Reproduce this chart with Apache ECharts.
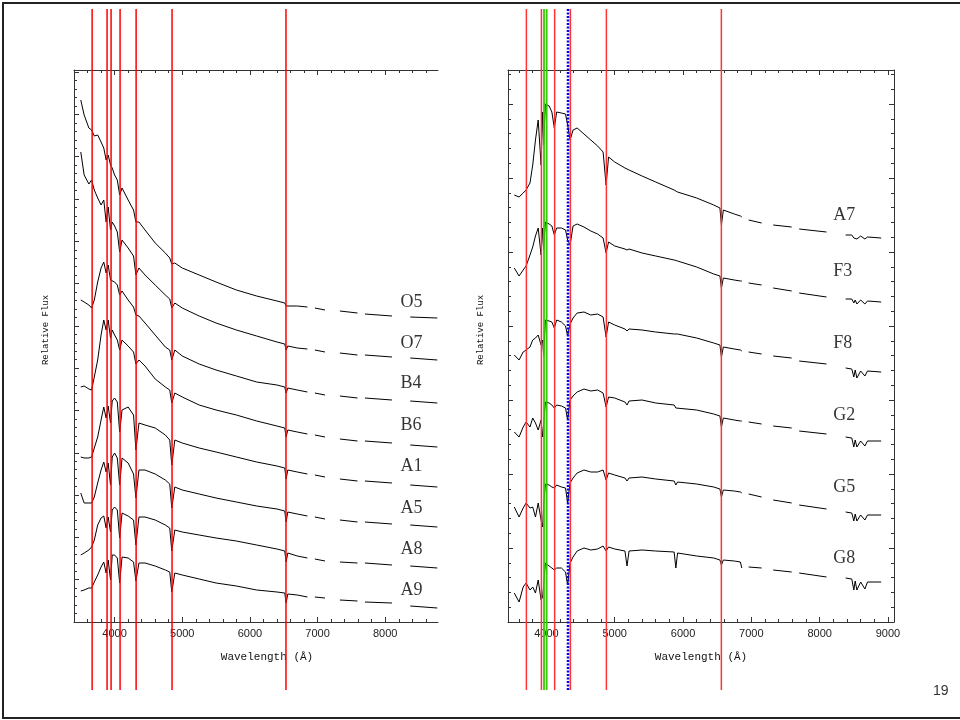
<!DOCTYPE html>
<html><head><meta charset="utf-8">
<script src="https://cdn.jsdelivr.net/npm/echarts@6/dist/echarts.min.js"></script>
<style>html,body{margin:0;padding:0;background:#fff}#c{width:960px;height:720px}</style>
</head><body><div id="c"></div>
<script>
// ---------- Left panel (O / B / early A stars) ----------
const leftWavelengths = [3500,3550,3620,3660,3700,3750,3800,3840,3875,3905,3940,3965,4000,4040,4075,4110,4200,4280,4315,4360,4450,4600,4750,4815,4845,4890,5000,5250,5500,5800,6100,6400,6515,6535,6560,6700,6850,6900,6960,7110,7200,7330,7590,7650,7700,8100,8250,8370,8770];
const O5 = [522,507,494,492,486,487,480,474,462,467,457,454,447,442,427,434,422,412,400,400,392,379,369,364,358,359,354,347,340,332,326,321,319,316,318,316,315,null,314,312,null,311,309,null,308,306,null,305,304];
const O7 = [470,447,438,442,432,424,417,422,400,415,392,400,396,390,370,382,374,366,347,354,347,337,327,323,314,319,314,306,299,292,286,280,278,272,276,274,273,null,272,270,null,269,267,null,267,265,null,264,262];
const B4 = [322,320,317,314,322,340,354,360,349,357,342,340,340,337,327,331,322,315,307,306,299,287,275,272,262,272,266,258,252,246,240,237,235,229,234,232,230,null,229,227,null,226,224,null,224,222,null,221,219];
const B6 = [235,236,233,232,245,262,287,302,292,302,284,292,287,282,272,282,276,270,258,262,256,243,235,232,219,229,225,217,212,207,201,196,194,185,192,190,188,null,187,185,null,183,181,null,181,179,null,177,175];
const A1 = [165,164,164,165,174,185,202,215,204,216,199,221,224,220,190,212,215,207,172,199,197,194,187,182,157,182,179,174,170,165,160,156,154,143,152,150,148,null,147,145,null,143,141,null,141,139,null,137,135];
const A5 = [129,119,119,119,125,139,152,160,150,159,137,165,169,164,137,164,159,148,124,152,152,148,142,138,114,135,132,128,124,120,116,113,111,100,110,108,106,null,105,103,null,102,100,null,100,98,null,97,95];
const A8 = [67,69,72,75,82,97,104,106,94,105,90,112,115,112,84,109,106,102,77,105,105,102,97,94,71,92,90,87,84,81,77,73,71,60,69,66,64,null,63,61,null,60,59,null,59,57,null,56,54];
const A9 = [31,32,34,34,40,47,55,60,49,62,42,67,67,64,39,65,64,60,41,59,59,56,52,50,30,49,47,43,39,36,32,30,29,19,28,27,25,null,25,24,null,22,21,null,20,19,null,16,14];
const leftNames = ['O5','O7','B4','B6','A1','A5','A8','A9'];
const leftLabelX = 8217;
const leftLabelY = [320,279,239,197,156,114,73,32];
const leftRedLines = [3668,3889,3948,4081,4318,4849,6533];
const leftMajorTicks = [4000,5000,6000,7000,8000];
const leftMinorTicks = [3600,3800,4200,4400,4600,4800,5200,5400,5600,5800,6200,6400,6600,6800,7200,7400,7600,7800,8200,8400,8600];

// ---------- Right panel (A7 / F / G stars) ----------
const rightWavelengths = [3530,3600,3660,3703,3760,3800,3840,3880,3922,3945,3960,3985,4000,4040,4080,4116,4150,4220,4280,4311,4347,4390,4450,4550,4650,4750,4830,4874,4910,5000,5150,5180,5210,5400,5600,5870,5895,5920,6200,6450,6540,6562,6590,6750,6840,6860,6920,6960,7150,7250,7320,7590,7650,7700,8100,8250,8380,8470,8500,8520,8545,8600,8662,8700,8900];
const A7 = [427,425,429,432,439,457,482,502,457,510,477,518,520,516,510,494,510,509,508,497,482,492,494,488,482,476,470,437,465,460,454,453,452,446,440,432,431,430,424,417,414,397,412,408,406,405,null,402,399,null,397,395,null,393,390,null,387,387,384,386,383,386,383,385,384];
const F3 = [354,346,352,356,367,375,386,394,367,394,372,400,400,398,396,387,394,394,392,382,377,396,398,395,391,388,384,369,380,376,373,372,373,369,366,362,361,361,355,348,346,334,344,342,341,341,null,339,337,null,334,331,null,329,325,null,323,323,319,322,318,322,318,321,320];
const F8 = [267,262,270,272,275,282,284,287,277,282,266,302,302,301,300,294,302,300,296,286,298,304,309,310,307,308,305,285,300,297,293,291,293,292,290,288,286,288,284,279,277,265,275,273,272,271,null,270,268,null,266,264,null,261,258,null,254,253,245,252,244,251,246,251,250];
const G2 = [190,185,195,200,195,204,199,192,202,185,197,220,222,219,217,214,217,216,214,202,222,226,230,233,231,232,229,215,225,224,220,217,221,222,219,217,214,216,212,208,206,195,204,202,201,201,null,200,198,null,196,194,null,191,188,null,185,184,175,182,175,181,176,181,181];
const G5 = [115,105,114,119,114,115,105,119,102,95,117,138,139,137,135,134,137,135,134,119,139,144,149,152,150,150,152,142,149,147,144,141,144,145,143,141,137,140,138,135,133,125,132,131,130,129,null,128,125,null,122,119,null,117,113,null,110,109,101,108,101,107,102,107,107];
const G8 = [29,20,35,39,32,35,29,42,22,25,37,59,59,56,54,52,54,54,50,37,59,65,71,74,72,73,76,71,75,73,71,56,71,72,71,70,54,69,66,64,62,57,62,61,60,54,null,55,54,null,52,50,null,49,45,null,44,43,32,41,32,40,33,40,40];
const rightNames = ['A7','F3','F8','G2','G5','G8'];
const rightLabelX = 8191;
const rightLabelY = [407,351,279,207,135,64];
const rightRedLines = [3707,3927,4121,4351,4878,6561];
const rightGreenLines = [3965,4004];
const rightBlueLines = [4316];
const rightMajorTicks = [4000,5000,6000,7000,8000,9000];
const rightMinorTicks = [3600,3800,4200,4400,4600,4800,5200,5400,5600,5800,6200,6400,6600,6800,7200,7400,7600,7800,8200,8400,8600,8800];

// ---------- layout ----------
const LEFT = {left:74, width:364, min:3400, max:8780};
const RIGHT = {left:508, width:386, min:3438, max:9088};
const Y_MAX = 552;
const AX = '#333';

function xAxesFor(grid, p, major, minor, namePad) {
  const base = {type:'value', gridIndex:grid, min:p.min, max:p.max, splitLine:{show:false}};
  return [
    Object.assign({}, base, {position:'bottom',
      axisLine:{onZero:false, lineStyle:{color:AX, width:1}},
      axisTick:{inside:true, length:5, customValues:major, lineStyle:{color:AX}},
      axisLabel:{customValues:major, formatter:v => String(v), margin:6, fontSize:11, color:'#222', fontFamily:'Liberation Sans'},
      name:'Wavelength (Å)', nameLocation:'middle', nameGap:30,
      nameTextStyle:{fontFamily:'Liberation Mono', fontSize:11, color:'#111', padding:[0,0,0,namePad]}}),
    Object.assign({}, base, {position:'bottom', axisLine:{show:false, onZero:false},
      axisTick:{inside:true, length:3, customValues:minor, lineStyle:{color:AX}}, axisLabel:{show:false}}),
    Object.assign({}, base, {position:'top',
      axisLine:{onZero:false, lineStyle:{color:AX, width:1}},
      axisTick:{inside:true, length:5, customValues:major, lineStyle:{color:AX}}, axisLabel:{show:false}}),
    Object.assign({}, base, {position:'top', axisLine:{show:false, onZero:false},
      axisTick:{inside:true, length:3, customValues:minor, lineStyle:{color:AX}}, axisLabel:{show:false}})
  ];
}
function yAxisFor(grid, interval, position, name, gap) {
  return {type:'value', gridIndex:grid, min:0, max:Y_MAX, interval:interval, position:position,
    splitLine:{show:false},
    axisLine:{show:true, onZero:false, lineStyle:{color:AX, width:1}},
    axisTick:{inside:true, length:5, lineStyle:{color:AX}},
    minorTick:{show:true, splitNumber:5, length:3, lineStyle:{color:AX}},
    axisLabel:{show:false},
    name:name, nameLocation:'middle', nameRotate:90, nameGap:gap,
    nameTextStyle:{fontFamily:'Liberation Mono', fontSize:9, color:'#111', padding:[0,0,0,32]}};
}

const xAxis = [].concat(
  xAxesFor(0, LEFT, leftMajorTicks, leftMinorTicks, 22),
  xAxesFor(1, RIGHT, rightMajorTicks, rightMinorTicks, 0),
  [{type:'value', gridIndex:2, min:LEFT.min, max:LEFT.max, show:false},
   {type:'value', gridIndex:3, min:RIGHT.min, max:RIGHT.max, show:false}]
);
const yAxis = [
  yAxisFor(0, 42.3, 'left', 'Relative Flux', 24),
  yAxisFor(1, 74, 'left', 'Relative Flux', 23),
  yAxisFor(1, 74, 'right', '', 0),
  {type:'value', gridIndex:2, min:0, max:1, show:false},
  {type:'value', gridIndex:3, min:0, max:1, show:false}
];

const toData = (xs, ys) => xs.map((x, i) => [x, ys[i] === null ? '-' : ys[i]]);
const series = [];
[O5,O7,B4,B6,A1,A5,A8,A9].forEach((s, i) => series.push({
  type:'line', name:leftNames[i], xAxisIndex:0, yAxisIndex:0, data:toData(leftWavelengths, s),
  showSymbol:false, symbol:'none', connectNulls:false, lineStyle:{color:'#000', width:1}, z:2, silent:true}));
[A7,F3,F8,G2,G5,G8].forEach((s, i) => series.push({
  type:'line', name:rightNames[i], xAxisIndex:4, yAxisIndex:1, data:toData(rightWavelengths, s),
  showSymbol:false, symbol:'none', connectNulls:false, lineStyle:{color:'#000', width:1}, z:2, silent:true}));

const labelStyle = {show:true, position:'right', distance:0, formatter:'{b}', fontFamily:'Liberation Serif', fontSize:18, color:'#000'};
series.push({type:'scatter', xAxisIndex:0, yAxisIndex:0, symbolSize:1, itemStyle:{color:'rgba(0,0,0,0)'}, label:labelStyle, silent:true,
  data:leftNames.map((n, i) => ({name:n, value:[leftLabelX, leftLabelY[i]]}))});
series.push({type:'scatter', xAxisIndex:4, yAxisIndex:1, symbolSize:1, itemStyle:{color:'rgba(0,0,0,0)'}, label:labelStyle, silent:true,
  data:rightNames.map((n, i) => ({name:n, value:[rightLabelX, rightLabelY[i]]}))});

function vline(xIdx, yIdx, w, style) {
  return {type:'line', xAxisIndex:xIdx, yAxisIndex:yIdx, data:[[w,0],[w,1]], symbol:'none', silent:true, z:5, lineStyle:style};
}
leftRedLines.forEach(w => series.push(vline(8, 3, w, {color:'#ff0000', width:1.5})));
rightRedLines.forEach(w => series.push(vline(9, 4, w, {color:'#ff3333', width:1.5})));
rightGreenLines.forEach(w => series.push(vline(9, 4, w, {color:'#33cc00', width:1.8})));
rightBlueLines.forEach(w => series.push(vline(9, 4, w, {color:'#0000ee', width:2.5, type:[2,1.5]})));

const chart = echarts.init(document.getElementById('c'), null, {renderer:'canvas'});
chart.setOption({
  backgroundColor:'#ffffff',
  animation:false,
  grid:[
    {left:LEFT.left, width:LEFT.width, top:70, height:552},
    {left:RIGHT.left, width:RIGHT.width, top:70, height:552},
    {left:LEFT.left, width:LEFT.width, top:9, height:681},
    {left:RIGHT.left, width:RIGHT.width, top:9, height:681}
  ],
  xAxis:xAxis,
  yAxis:yAxis,
  series:series,
  graphic:[
    {type:'rect', shape:{x:3, y:3, width:965, height:715}, style:{fill:null, stroke:'#222', lineWidth:2}, silent:true},
    {type:'text', left:933, top:684, style:{text:'19', font:'14px "Liberation Sans"', fill:'#333'}, silent:true}
  ]
});
</script></body></html>
